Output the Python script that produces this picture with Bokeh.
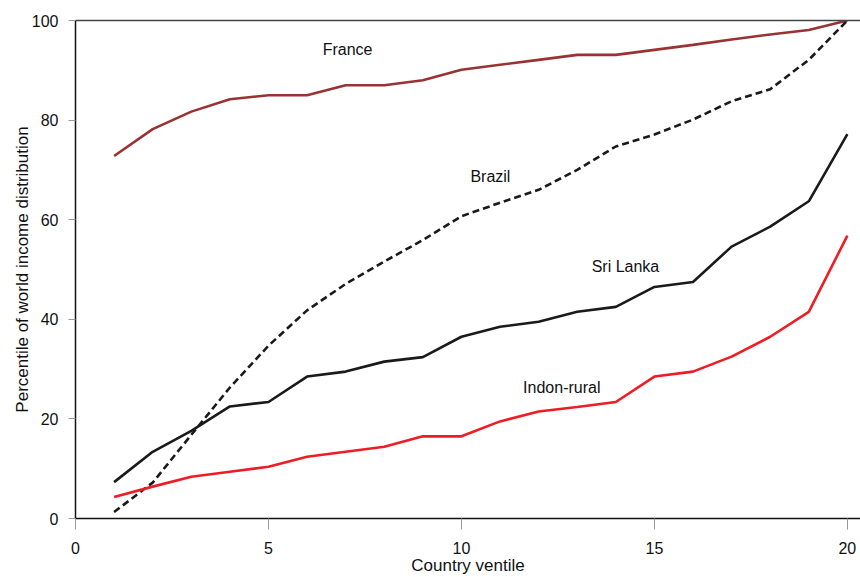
from bokeh.plotting import figure
from bokeh.models import Range1d, FixedTicker, Label, LinearAxis
from bokeh.embed import file_html
from bokeh.resources import INLINE

ventiles = list(range(1, 21))
france = [72.8, 78.2, 81.7, 84.2, 85.0, 85.0, 87.0, 87.0, 88.0, 90.1,
          91.1, 92.1, 93.1, 93.1, 94.1, 95.1, 96.2, 97.2, 98.1, 100.0]
brazil = [1.3, 7.2, 16.8, 26.3, 34.7, 41.8, 47.1, 51.6, 55.9, 60.7,
          63.4, 66.0, 70.0, 74.7, 77.1, 80.1, 83.8, 86.2, 92.1, 100.0]
sri_lanka = [7.3, 13.4, 17.6, 22.5, 23.4, 28.5, 29.5, 31.5, 32.4, 36.5,
             38.5, 39.5, 41.5, 42.5, 46.5, 47.5, 54.6, 58.6, 63.7, 77.2]
indon_rural = [4.3, 6.4, 8.4, 9.4, 10.4, 12.4, 13.4, 14.4, 16.5, 16.5,
               19.5, 21.5, 22.4, 23.4, 28.5, 29.5, 32.5, 36.5, 41.5, 56.8]

x_ticks = [0, 5, 10, 15, 20]
y_ticks = [0, 20, 40, 60, 80, 100]

series_labels = ["France", "Brazil", "Sri Lanka", "Indon-rural"]
label_x = [7.05, 10.75, 14.25, 12.6]
label_y = [94.2, 68.6, 50.6, 26.3]

x_title = "Country ventile"
y_title = "Percentile of world income distribution"

FONT = "Liberation Sans"

p = figure(width=860, height=577, output_backend="svg", toolbar_location=None,
           x_range=Range1d(0, 20.34), y_range=Range1d(0, 100),
           min_border_top=20, min_border_right=0, min_border_left=75, min_border_bottom=59)

p.background_fill_color = "white"
p.border_fill_color = "white"
p.outline_line_color = None
p.xgrid.visible = False
p.ygrid.visible = False

bottom_axis = p.below[0]
left_axis = p.left[0]

bottom_axis.ticker = FixedTicker(ticks=x_ticks)
left_axis.ticker = FixedTicker(ticks=y_ticks)
for ax in (bottom_axis, left_axis):
    ax.axis_line_color = "#111111"
    ax.axis_line_width = 1.5
    ax.major_tick_in = 0
    ax.minor_tick_line_color = None
    ax.major_tick_line_color = "#999999"
    ax.major_label_text_font = FONT
    ax.major_label_text_font_size = "16px"
    ax.major_label_text_color = "#111111"
    ax.axis_label_text_font = FONT
    ax.axis_label_text_font_size = "17px"
    ax.axis_label_text_font_style = "normal"
    ax.axis_label_text_color = "#111111"

bottom_axis.major_tick_out = 11
bottom_axis.major_label_standoff = 12
bottom_axis.axis_label = x_title
bottom_axis.axis_label_standoff = -1

left_axis.major_tick_out = 7
left_axis.major_label_standoff = 10
left_axis.axis_label = y_title
left_axis.axis_label_standoff = -3

# plain top border line of the plot box (no ticks, no labels)
top_axis = LinearAxis(ticker=FixedTicker(ticks=[]), major_label_text_font_size="0px",
                      major_tick_line_color=None, minor_tick_line_color=None,
                      major_tick_out=0, major_label_standoff=0,
                      axis_line_color="#444444", axis_line_width=1.5)
p.add_layout(top_axis, "above")

p.line(ventiles, france, line_color="#993333", line_width=2.6)
p.line(ventiles, brazil, line_color="#1a1a1a", line_width=2.6, line_dash="7 4")
p.line(ventiles, sri_lanka, line_color="#1a1a1a", line_width=2.6)
p.line(ventiles, indon_rural, line_color="#EE1C24", line_width=2.6)

for t, lx, ly in zip(series_labels, label_x, label_y):
    p.add_layout(Label(x=lx, y=ly, text=t, text_font=FONT, text_font_size="16px",
                       text_color="#111111", text_align="center", text_baseline="middle"))

open("out.html", "w").write(file_html(p, INLINE))
